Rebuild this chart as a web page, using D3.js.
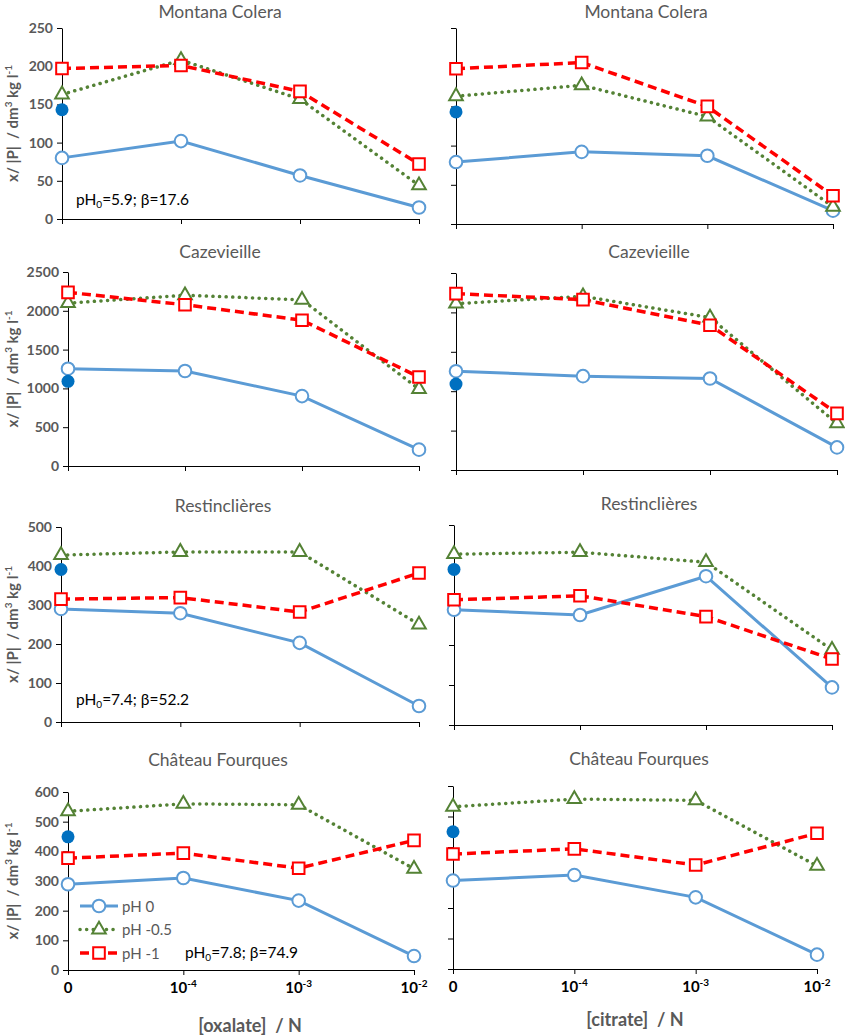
<!DOCTYPE html>
<html>
<head>
<meta charset="utf-8">
<script src="https://cdn.jsdelivr.net/npm/d3@7"></script>
<style>
  body { margin: 0; background: #fff; }
  svg text { font-family: Lato, "Open Sans", sans-serif; }
</style>
</head>
<body>
<div id="chart-area"></div>
<script>
// categories on the x axis (evenly spaced)
var categories = ["0", "1e-4", "1e-3", "1e-2"];
var tickBase = ["0", "10", "10", "10"];
var tickExp = ["", "-4", "-3", "-2"];
var seriesNames = ["pH 0", "pH -0.5", "pH -1"];

// Montana Colera
var mcOxPH0 = [80, 102, 57, 15];
var mcOxPH05 = [163, 208, 157, 44];
var mcOxPH1 = [197, 201, 167, 72];
var mcCiPH0 = [79, 92, 87, 17];
var mcCiPH05 = [163, 177, 137, 22];
var mcCiPH1 = [198, 206, 150, 36];
// Cazevieille
var czOxPH0 = [1254, 1224, 901, 211];
var czOxPH05 = [2099, 2200, 2142, 991];
var czOxPH1 = [2237, 2078, 1879, 1147];
var czCiPH0 = [1254, 1191, 1161, 287];
var czCiPH05 = [2111, 2204, 1934, 591];
var czCiPH1 = [2238, 2162, 1837, 718];
// Restinclières
var rsOxPH0 = [290, 279, 203, 41];
var rsOxPH05 = [428, 436, 436, 250];
var rsOxPH1 = [315, 319, 282, 382];
var rsCiPH0 = [288, 275, 372, 94];
var rsCiPH05 = [427, 432, 407, 188];
var rsCiPH1 = [313, 323, 271, 165];
// Château Fourques
var cfOxPH0 = [289, 310, 234, 47];
var cfOxPH05 = [535, 560, 557, 341];
var cfOxPH1 = [377, 394, 343, 437];
var cfCiPH0 = [290, 308, 235, 47];
var cfCiPH05 = [532, 557, 553, 338];
var cfCiPH1 = [377, 394, 341, 445];

// initial value (filled dot at [anion] = 0)
var initialOx = [143, 1091, 391, 449];
var initialCi = [143, 1090, 389, 450];

var siteNames = ["Montana Colera", "Cazevieille", "Restinclières", "Château Fourques"];
var yMax = [250, 2500, 500, 600];
var yStep = [50, 500, 100, 100];
var notesPH = ["5.9", null, "7.4", "7.8"];
var notesBeta = ["17.6", null, "52.2", "74.9"];

var oxSeries = [[mcOxPH0, mcOxPH05, mcOxPH1], [czOxPH0, czOxPH05, czOxPH1],
                [rsOxPH0, rsOxPH05, rsOxPH1], [cfOxPH0, cfOxPH05, cfOxPH1]];
var ciSeries = [[mcCiPH0, mcCiPH05, mcCiPH1], [czCiPH0, czCiPH05, czCiPH1],
                [rsCiPH0, rsCiPH05, rsCiPH1], [cfCiPH0, cfCiPH05, cfCiPH1]];

// plot boxes of the eight small charts
var boxes = [
    [{x0: 62, x1: 419, y0: 28, y1: 219}, {x0: 456, x1: 833, y0: 28, y1: 224}],
    [{x0: 68, x1: 419, y0: 272, y1: 466}, {x0: 456, x1: 837, y0: 273, y1: 470}],
    [{x0: 61, x1: 419, y0: 527, y1: 722}, {x0: 454, x1: 832, y0: 525, y1: 725}],
    [{x0: 68, x1: 414, y0: 792, y1: 970}, {x0: 453, x1: 817, y0: 786, y1: 969}]
];
var titlePos = [[[220, 18], [646, 18]], [[220, 258], [649, 258]], [[223, 512], [649, 510]], [[218, 766], [639, 765]]];

var styles = [
    {color: "#5B9BD5", dash: null, width: 3, marker: d3.symbolCircle, size: 125},
    {color: "#548235", dash: "0.1,6.5", width: 3.5, marker: d3.symbolTriangle, size: 80},
    {color: "#FF0000", dash: "9,5", width: 3.5, marker: d3.symbolSquare, size: 135}
];

var svg = d3.select("#chart-area")
  .append("svg")
    .attr("width", 845)
    .attr("height", 1036);

function drawPanel(row, col) {
    var b = boxes[row][col];
    var series = col === 0 ? oxSeries[row] : ciSeries[row];
    var initial = col === 0 ? initialOx[row] : initialCi[row];

    var x = d3.scalePoint().domain(categories).range([b.x0, b.x1]);
    var y = d3.scaleLinear().domain([0, yMax[row]]).range([b.y1, b.y0]);

    var g = svg.append("g");

    // title
    g.append("text")
        .attr("x", titlePos[row][col][0])
        .attr("y", titlePos[row][col][1])
        .attr("text-anchor", "middle")
        .attr("font-size", "17.5px")
        .attr("fill", "#595959")
        .text(siteNames[row]);

    // y axis
    var yAxisCall = d3.axisLeft(y)
        .tickValues(d3.range(0, yMax[row] + 1, yStep[row]))
        .tickSize(5)
        .tickSizeOuter(0)
        .tickPadding(4)
        .tickFormat(col === 0 ? d3.format("d") : "");
    var ya = g.append("g")
        .attr("transform", "translate(" + b.x0 + ",0)")
        .call(yAxisCall);
    ya.select(".domain").attr("stroke", "#000");
    ya.selectAll(".tick line").attr("stroke", "#000");
    ya.selectAll("text")
        .attr("font-family", "Lato, sans-serif")
        .attr("font-size", "14px")
        .attr("font-weight", "bold")
        .attr("fill", "#595959");

    // x axis
    var xAxisCall = d3.axisBottom(x).tickSize(5).tickSizeOuter(0).tickFormat("");
    var xa = g.append("g")
        .attr("transform", "translate(0," + b.y1 + ")")
        .call(xAxisCall);
    xa.select(".domain").attr("stroke", "#000");
    xa.selectAll(".tick line").attr("stroke", "#000");

    // y axis label
    if (col === 0) {
        var yl = g.append("text")
            .attr("transform", "translate(18," + ((b.y0 + b.y1) / 2) + ") rotate(-90)")
            .attr("text-anchor", "middle")
            .attr("font-size", "15px")
            .attr("font-weight", "bold")
            .attr("fill", "#595959")
            .style("white-space", "pre");
        yl.append("tspan").text("x/ |P|  / dm");
        yl.append("tspan").attr("font-size", "10px").attr("dy", -6).text("3");
        yl.append("tspan").attr("dy", 6).text(" kg l");
        yl.append("tspan").attr("font-size", "10px").attr("dy", -6).text("-1");
    }

    // lines and markers
    series.forEach(function(vals, i) {
        var st = styles[i];
        var line = d3.line()
            .x(function(d, k) { return x(categories[k]); })
            .y(function(d) { return y(d); });
        g.append("path")
            .datum(vals)
            .attr("d", line)
            .attr("fill", "none")
            .attr("stroke", st.color)
            .attr("stroke-width", st.width)
            .attr("stroke-linecap", st.dash && st.dash.indexOf("0.1") === 0 ? "round" : "butt")
            .attr("stroke-dasharray", st.dash);
        g.selectAll(".m" + i)
            .data(vals)
            .enter()
            .append("path")
                .attr("class", "m" + i)
                .attr("d", d3.symbol().type(st.marker).size(st.size))
                .attr("transform", function(d, k) { return "translate(" + x(categories[k]) + "," + y(d) + ")"; })
                .attr("fill", "#fff")
                .attr("stroke", st.color)
                .attr("stroke-width", 2);
    });

    // initial value
    g.append("circle")
        .attr("cx", x(categories[0]))
        .attr("cy", y(initial))
        .attr("r", 6.5)
        .attr("fill", "#0070C0");

    // pH0 / beta note
    if (col === 0 && notesPH[row] !== null) {
        var nx = row === 3 ? 185 : 76;
        var ny = row === 0 ? 205 : (row === 2 ? 705 : 958);
        var t = g.append("text")
            .attr("x", nx)
            .attr("y", ny)
            .attr("font-size", "15.5px")
            .attr("fill", "#000");
        t.append("tspan").text("pH");
        t.append("tspan").attr("font-size", "10px").attr("dy", 3).text("0");
        t.append("tspan").attr("dy", -3).text("=" + notesPH[row] + "; β=" + notesBeta[row]);
    }

    // bottom row: tick labels and axis title
    if (row === 3) {
        categories.forEach(function(c, k) {
            var tl = g.append("text")
                .attr("x", x(c))
                .attr("y", b.y1 + 23)
                .attr("text-anchor", "middle")
                .attr("font-size", "15px")
                .attr("font-weight", "bold")
                .attr("fill", "#000");
            tl.append("tspan").text(tickBase[k]);
            if (tickExp[k]) {
                tl.append("tspan").attr("font-size", "10px").attr("dy", -6).text(tickExp[k]);
            }
        });
        g.append("text")
            .attr("x", col === 0 ? 250 : 635)
            .attr("y", col === 0 ? 1032 : 1026)
            .attr("text-anchor", "middle")
            .attr("font-size", "18px")
            .attr("font-weight", "bold")
            .attr("fill", "#595959")
            .style("white-space", "pre")
            .text(col === 0 ? "[oxalate]  / N" : "[citrate]  / N");
    }
}

for (var r = 0; r < 4; r++) {
    drawPanel(r, 0);
    drawPanel(r, 1);
}

// legend in the bottom-left chart
var legend = svg.append("g").attr("transform", "translate(80,906)");
seriesNames.forEach(function(name, i) {
    var st = styles[i];
    var lg = legend.append("g").attr("transform", "translate(0," + (i * 23.5) + ")");
    lg.append("line")
        .attr("x1", 0).attr("x2", 38)
        .attr("stroke", st.color)
        .attr("stroke-width", st.width)
        .attr("stroke-linecap", st.dash && st.dash.indexOf("0.1") === 0 ? "round" : "butt")
        .attr("stroke-dasharray", st.dash);
    lg.append("path")
        .attr("d", d3.symbol().type(st.marker).size(st.size))
        .attr("transform", "translate(19,0)")
        .attr("fill", "#fff")
        .attr("stroke", st.color)
        .attr("stroke-width", 2);
    lg.append("text")
        .attr("x", 42)
        .attr("y", 5.5)
        .attr("font-size", "15px")
        .attr("fill", "#595959")
        .text(name);
});
</script>
</body>
</html>
